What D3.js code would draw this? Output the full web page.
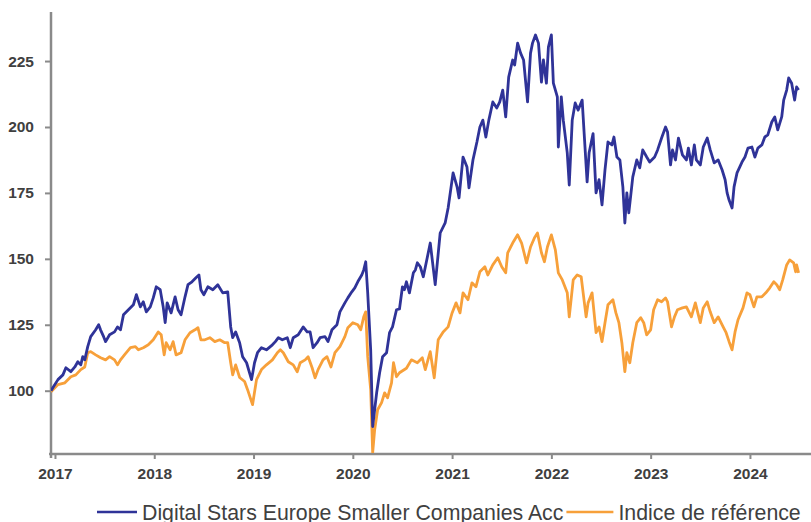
<!DOCTYPE html>
<html>
<head>
<meta charset="utf-8">
<script src="https://cdn.jsdelivr.net/npm/d3@7"></script>
<style>
  body { margin: 0; background: #fff; }
  svg { display: block; font-family: "Liberation Sans", Arial, sans-serif; }
</style>
</head>
<body>
<div id="chart"></div>
<script>
// positions in decimal years, values indexed to 100
const fundYears = [
  2016.96, 2017.03, 2017.08, 2017.11, 2017.16, 2017.20, 2017.23, 2017.26, 2017.28, 2017.30,
  2017.33, 2017.36, 2017.41, 2017.44, 2017.46, 2017.49, 2017.51, 2017.55, 2017.60, 2017.63,
  2017.66, 2017.69, 2017.74, 2017.79, 2017.82, 2017.86, 2017.89, 2017.92, 2017.96, 2017.99,
  2018.02, 2018.06, 2018.09, 2018.11, 2018.13, 2018.17, 2018.21, 2018.24, 2018.27, 2018.31,
  2018.34, 2018.38, 2018.42, 2018.45, 2018.47, 2018.50, 2018.54, 2018.59, 2018.64, 2018.69,
  2018.74, 2018.77, 2018.79, 2018.82, 2018.86, 2018.89, 2018.93, 2018.98, 2019.01, 2019.04,
  2019.08, 2019.13, 2019.19, 2019.22, 2019.25, 2019.29, 2019.34, 2019.37, 2019.40, 2019.45,
  2019.50, 2019.54, 2019.57, 2019.60, 2019.64, 2019.67, 2019.72, 2019.75, 2019.79, 2019.84,
  2019.87, 2019.92, 2019.95, 2019.99, 2020.02, 2020.05, 2020.09, 2020.11, 2020.13, 2020.15,
  2020.18, 2020.20, 2020.24, 2020.27, 2020.30, 2020.34, 2020.37, 2020.40, 2020.44, 2020.47,
  2020.50, 2020.52, 2020.54, 2020.57, 2020.61, 2020.63, 2020.65, 2020.68, 2020.71, 2020.78,
  2020.83, 2020.88, 2020.93, 2020.96, 2021.01, 2021.05, 2021.07, 2021.11, 2021.15, 2021.17,
  2021.21, 2021.25, 2021.28, 2021.31, 2021.34, 2021.37, 2021.41, 2021.45, 2021.48, 2021.51,
  2021.54, 2021.57, 2021.61, 2021.63, 2021.66, 2021.69, 2021.72, 2021.76, 2021.79, 2021.81,
  2021.84, 2021.87, 2021.90, 2021.92, 2021.95, 2021.97, 2022.00, 2022.02, 2022.06, 2022.07,
  2022.10, 2022.12, 2022.16, 2022.18, 2022.21, 2022.24, 2022.27, 2022.31, 2022.33, 2022.36,
  2022.38, 2022.42, 2022.45, 2022.48, 2022.51, 2022.54, 2022.57, 2022.61, 2022.63, 2022.66,
  2022.69, 2022.72, 2022.74, 2022.76, 2022.78, 2022.82, 2022.86, 2022.89, 2022.92, 2022.96,
  2022.99, 2023.04, 2023.07, 2023.11, 2023.15, 2023.17, 2023.20, 2023.22, 2023.25, 2023.28,
  2023.32, 2023.36, 2023.38, 2023.41, 2023.44, 2023.46, 2023.50, 2023.53, 2023.57, 2023.60,
  2023.64, 2023.68, 2023.72, 2023.75, 2023.77, 2023.79, 2023.82, 2023.84, 2023.87, 2023.92,
  2023.95, 2023.98, 2024.02, 2024.05, 2024.08, 2024.12, 2024.15, 2024.18, 2024.22, 2024.25,
  2024.28, 2024.32, 2024.34, 2024.37, 2024.39, 2024.42, 2024.45, 2024.47, 2024.49
];
const fundValues = [
  100, 104.2, 106, 108.7, 107.2, 109, 111, 109.8, 112.9, 111.7,
  116.7, 120.5, 123.1, 125, 123, 120.5, 118.6, 121.2, 122.3, 124.2,
  123.1, 128.8, 130.7, 132.6, 136.4, 131.8, 133.7, 129.9, 131.8, 135.2,
  139.4, 138.3, 131.8, 125.8, 133.3, 129.5, 135.6, 130.7, 128.8, 135.6,
  140.2, 141.3, 142.8, 143.9, 138.3, 136.4, 139.4, 138.3, 140.2, 137.1,
  137.5, 124.2, 120.1, 122.3, 118.2, 112.9, 110.6, 104.2, 110.6, 114.4,
  116.3, 115.5, 117.4, 118.6, 120.1, 119.3, 120.1, 116.3, 120.1, 121.2,
  124.2, 122.3, 122.3, 116.3, 118.2, 120.1, 120.5, 118.6, 123.1, 125,
  129.9, 133.3, 135.2, 137.5, 139, 141.3, 143.9, 145.8, 148.9, 137.1,
  115.5, 86.4, 99.2, 106.8, 112.9, 114.4, 122, 124.2, 130.7, 131,
  139.4, 138.3, 141.3, 137.1, 144.7, 145.8, 148.5, 147, 143.2, 156,
  140.2, 159.8, 163.6, 169.3, 182.6, 177.3, 173.1, 188.6, 184.8, 176.9,
  187.5, 194.3, 200, 202.6, 196.2, 202.6, 209.5, 207.2, 209.5, 214,
  203.8, 218.9, 225.4, 223.5, 231.8, 228, 225.4, 209.5, 228, 231.8,
  234.9, 231.8, 217, 225.4, 216.6, 230.3, 234.9, 216.6, 211.4, 192.4,
  211.4, 202.6, 190.2, 178, 202.6, 209.1, 206.4, 210.2, 197.7, 179.2,
  190.2, 197.5, 175, 180, 170.5, 183.7, 194.3, 193.2, 196.2, 188.6,
  187.5, 177.3, 163.6, 175, 167.4, 181.1, 187.5, 184.5, 191.3, 188.6,
  186.7, 188.6, 191.3, 195.8, 200, 198.1, 185.6, 191.3, 187.5, 195.8,
  189.4, 187.5, 192, 185.6, 193.2, 187.5, 185.6, 192.4, 195.8, 191.3,
  186.4, 187.5, 183.7, 180, 175, 172.3, 169.3, 177.3, 182.6, 186.7,
  188.6, 192, 192.4, 188.6, 192, 193.2, 196.2, 197, 201.9, 203.8,
  198.9, 203.8, 210.2, 214, 218.6, 216.6, 210.2, 215.2, 214
];

const benchYears = [
  2016.96, 2017.03, 2017.10, 2017.16, 2017.21, 2017.26, 2017.30, 2017.33, 2017.36, 2017.41,
  2017.46, 2017.51, 2017.55, 2017.60, 2017.63, 2017.66, 2017.70, 2017.76, 2017.81, 2017.84,
  2017.89, 2017.94, 2017.99, 2018.04, 2018.07, 2018.10, 2018.12, 2018.16, 2018.19, 2018.22,
  2018.27, 2018.31, 2018.36, 2018.41, 2018.44, 2018.47, 2018.51, 2018.56, 2018.61, 2018.66,
  2018.71, 2018.74, 2018.77, 2018.79, 2018.82, 2018.86, 2018.91, 2018.94, 2018.99, 2019.03,
  2019.08, 2019.13, 2019.19, 2019.24, 2019.27, 2019.30, 2019.35, 2019.40, 2019.44, 2019.47,
  2019.52, 2019.55, 2019.59, 2019.62, 2019.65, 2019.70, 2019.74, 2019.78, 2019.82, 2019.87,
  2019.92, 2019.95, 2020.00, 2020.05, 2020.08, 2020.11, 2020.13, 2020.15, 2020.18, 2020.20,
  2020.22, 2020.25, 2020.29, 2020.32, 2020.35, 2020.39, 2020.41, 2020.44, 2020.47, 2020.54,
  2020.59, 2020.65, 2020.70, 2020.73, 2020.78, 2020.82, 2020.86, 2020.91, 2020.96, 2021.00,
  2021.04, 2021.08, 2021.11, 2021.16, 2021.20, 2021.24, 2021.28, 2021.33, 2021.36, 2021.41,
  2021.46, 2021.50, 2021.54, 2021.56, 2021.61, 2021.66, 2021.70, 2021.75, 2021.79, 2021.83,
  2021.86, 2021.90, 2021.93, 2021.96, 2022.00, 2022.04, 2022.07, 2022.11, 2022.16, 2022.18,
  2022.22, 2022.26, 2022.30, 2022.32, 2022.35, 2022.37, 2022.41, 2022.45, 2022.48, 2022.51,
  2022.54, 2022.57, 2022.62, 2022.65, 2022.68, 2022.71, 2022.74, 2022.76, 2022.79, 2022.82,
  2022.86, 2022.90, 2022.93, 2022.96, 2023.00, 2023.03, 2023.07, 2023.11, 2023.15, 2023.17,
  2023.21, 2023.24, 2023.27, 2023.32, 2023.36, 2023.41, 2023.45, 2023.50, 2023.53, 2023.57,
  2023.60, 2023.64, 2023.68, 2023.73, 2023.76, 2023.79, 2023.82, 2023.85, 2023.88, 2023.93,
  2023.97, 2024.00, 2024.04, 2024.07, 2024.12, 2024.16, 2024.20, 2024.24, 2024.27, 2024.30,
  2024.33, 2024.37, 2024.40, 2024.44, 2024.46, 2024.47, 2024.49
];
const benchValues = [
  99.6, 102.3, 103, 105.3, 106, 108, 109, 114.4, 114.8, 113.6,
  112.5, 111.7, 112.9, 111.7, 109.8, 111.7, 113.6, 116.3, 116.7, 115.5,
  116.3, 117.4, 119.3, 122.3, 121.2, 113.6, 118.2, 115.5, 118.6, 113.6,
  114.4, 119.3, 122, 123.1, 123.9, 119.3, 119.3, 120.1, 118.6, 119.3,
  118.2, 118.2, 110.6, 106, 109.8, 105, 103.5, 100.4, 94.7, 104.2,
  108, 109.8, 111.7, 114.4, 115.5, 114.4, 111, 109.8, 107.2, 110.6,
  111.7, 112.9, 108.7, 104.9, 108, 111.7, 112.9, 109, 114.4, 116.7,
  120.5, 123.9, 125.8, 125, 123.1, 128, 129.9, 112.9, 100.4, 76.5,
  85.2, 92.8, 95.5, 99.2, 97.3, 103, 110.6, 105.3, 106.8, 108.5,
  111.7, 110.6, 112.5, 108, 114.8, 104.9, 119.3, 122.3, 124.2, 129.5,
  133.3, 129.5, 137.1, 134.5, 140.9, 139.4, 145.1, 147, 143.9, 147.7,
  150.4, 147, 144.7, 152.3, 156, 159.1, 156, 148.5, 154.5, 158,
  159.8, 152.3, 148.9, 154.5, 159.1, 153.4, 144.7, 142, 137.1, 128,
  142, 143.9, 143.2, 137.1, 128, 133.3, 137.1, 122, 124.2, 118.6,
  125.8, 132.6, 134.5, 129.5, 125.8, 118.2, 107.2, 114.4, 110.6, 118.2,
  125.8, 127.7, 125.8, 121.2, 123.1, 130.7, 134.5, 133.7, 135.2, 133.7,
  124.2, 128, 130.7, 131.4, 131.8, 128, 133.3, 125.8, 131.4, 133.7,
  129.9, 125.8, 128, 124.2, 122, 118.6, 115.5, 122.3, 126.9, 131.4,
  137.1, 136.4, 131.8, 135.6, 135.6, 137.1, 139, 141.3, 140.2, 138.3,
  142, 147.7, 149.6, 148.5, 145.1, 147.7, 144.7
];

const seriesNames = ["Digital Stars Europe Smaller Companies Acc", "Indice de référence"];
const seriesColors = ["#2f3398", "#f7a03a"];
const yearTicks = [2017, 2018, 2019, 2020, 2021, 2022, 2023, 2024];
const valueTicks = [100, 125, 150, 175, 200, 225];

const MARGIN = { TOP: 12, BOTTOM: 68, LEFT: 51, RIGHT: 0 };
const WIDTH = 811 - MARGIN.LEFT - MARGIN.RIGHT;
const HEIGHT = 522 - MARGIN.TOP - MARGIN.BOTTOM;
const AXIS_COLOR = "#8a8a8a";
const TEXT_COLOR = "#404040";

const svg = d3.select("#chart")
  .append("svg")
    .attr("width", 811)
    .attr("height", 522);

const g = svg.append("g")
  .attr("transform", `translate(${MARGIN.LEFT}, ${MARGIN.TOP})`);

const x = d3.scaleLinear()
  .domain([2016.96, 2024.615])
  .range([0, WIDTH]);

const y = d3.scaleLinear()
  .domain([76, 243.6])
  .range([HEIGHT, 0]);

// axes
const yAxisCall = d3.axisLeft(y)
  .tickValues(valueTicks)
  .tickSize(6)
  .tickSizeOuter(0)
  .tickPadding(11);

const yAxisGroup = g.append("g").call(yAxisCall);

const xAxisCall = d3.axisBottom(x)
  .tickValues(yearTicks)
  .tickFormat(d3.format("d"))
  .tickSize(5)
  .tickSizeOuter(0)
  .tickPadding(9);

const xAxisGroup = g.append("g")
  .attr("transform", `translate(0, ${HEIGHT})`)
  .call(xAxisCall);

[yAxisGroup, xAxisGroup].forEach(ax => {
  ax.select(".domain").remove();
  ax.selectAll(".tick line").attr("stroke", AXIS_COLOR).attr("stroke-width", 2);
  ax.selectAll(".tick text")
    .attr("fill", TEXT_COLOR)
    .style("font-size", "15.5px")
    .style("font-weight", "bold");
});

g.append("line")
  .attr("x1", 0).attr("x2", 0)
  .attr("y1", 0).attr("y2", HEIGHT + 4)
  .attr("stroke", AXIS_COLOR)
  .attr("stroke-width", 2.5);

g.append("line")
  .attr("x1", -2).attr("x2", WIDTH)
  .attr("y1", HEIGHT).attr("y2", HEIGHT)
  .attr("stroke", AXIS_COLOR)
  .attr("stroke-width", 2.5);

// lines
svg.append("clipPath").attr("id", "plot")
  .append("rect")
    .attr("x", 0).attr("y", -5)
    .attr("width", WIDTH).attr("height", HEIGHT + 4);

const line = d3.line()
  .x(d => x(d[0]))
  .y(d => y(d[1]));

const series = [
  { data: d3.zip(benchYears, benchValues), color: seriesColors[1] },
  { data: d3.zip(fundYears, fundValues), color: seriesColors[0] }
];

g.append("g")
  .attr("clip-path", "url(#plot)")
  .selectAll("path")
  .data(series)
  .enter()
  .append("path")
    .attr("d", d => line(d.data))
    .attr("fill", "none")
    .attr("stroke", d => d.color)
    .attr("stroke-width", 2.8)
    .attr("stroke-linejoin", "round");

// legend
const legend = svg.append("g");
let lx = 97;
seriesNames.forEach((name, i) => {
  const len = i === 0 ? 40 : 47;
  legend.append("line")
    .attr("x1", lx).attr("x2", lx + len)
    .attr("y1", 512).attr("y2", 512)
    .attr("stroke", seriesColors[i])
    .attr("stroke-width", 2.5);
  lx += len + 5;
  const t = legend.append("text")
    .attr("x", lx)
    .attr("y", 520)
    .attr("fill", TEXT_COLOR)
    .style("font-size", "21.3px")
    .text(name);
  lx += t.node().getComputedTextLength() + 3;
});
</script>
</body>
</html>
